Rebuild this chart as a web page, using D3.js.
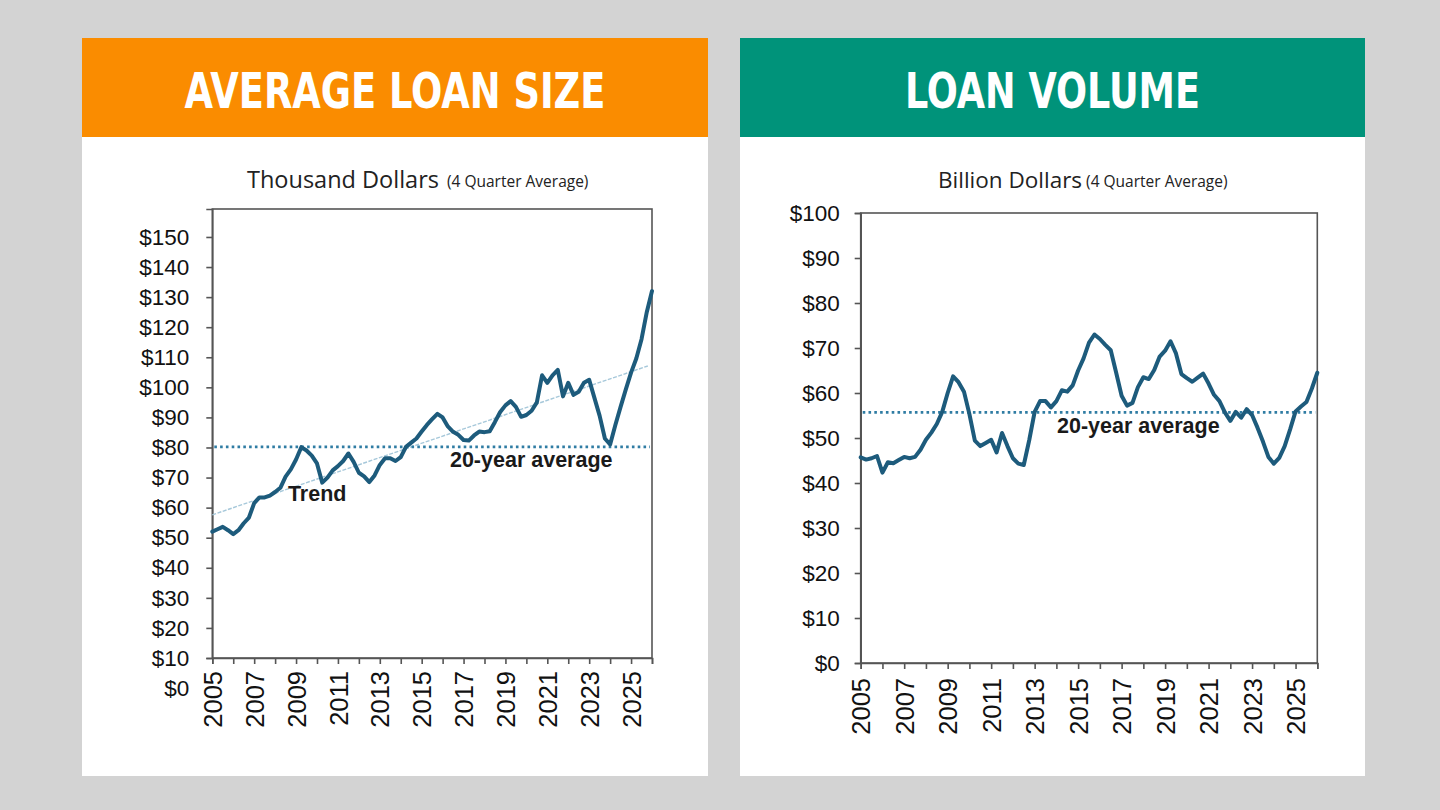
<!DOCTYPE html>
<html>
<head>
<meta charset="utf-8">
<script src="https://cdn.jsdelivr.net/npm/d3@7"></script>
<style>
  html, body { margin: 0; padding: 0; background: #d3d3d3; }
  svg { display: block; }
</style>
</head>
<body>
<svg id="chart" width="1440" height="810"></svg>
<script>
// ---------------- DATA ----------------
const startYear = 2005;            // first quarter of both series
const quarterStep = 0.25;

// Average loan size, thousand dollars (4 quarter average), quarterly 2005-2026
const loanSizeValues = [
  52.0, 52.8, 53.6, 52.5, 51.2, 52.5, 54.8, 56.7, 61.5, 63.4,
  63.4, 64.0, 65.2, 66.6, 70.3, 72.7, 76.0, 80.1, 79.0, 77.3,
  74.7, 68.3, 70.0, 72.4, 73.8, 75.5, 78.0, 75.2, 71.6, 70.4,
  68.5, 70.7, 74.2, 76.4, 76.4, 75.5, 76.8, 80.2, 81.6, 83.0,
  85.3, 87.5, 89.4, 91.2, 90.0, 87.0, 85.2, 84.2, 82.5, 82.3,
  84.0, 85.3, 85.1, 85.4, 88.5, 91.8, 94.0, 95.4, 93.5, 90.2,
  90.8, 92.2, 95.0, 104.0, 101.5, 104.0, 105.8, 97.0, 101.5, 97.5,
  98.5, 101.5, 102.5, 96.5, 90.5, 83.0, 81.0, 87.5, 93.5, 99.3,
  104.9, 109.6, 116.0, 125.0, 132.0
];
const loanSizeAverage = 80.2;
const trendYears = [2005, 2025.8];
const trendValues = [57.6, 107.1];

// Loan volume, billion dollars (4 quarter average), quarterly 2005-2026
const loanVolumeValues = [
  45.7, 45.2, 45.5, 46.0, 42.3, 44.6, 44.4, 45.1, 45.8, 45.5,
  45.8, 47.4, 49.6, 51.2, 53.1, 55.8, 60.0, 63.7, 62.4, 60.3,
  55.3, 49.4, 48.2, 48.9, 49.6, 46.8, 51.1, 48.2, 45.5, 44.3,
  44.0, 49.5, 55.8, 58.2, 58.2, 56.8, 58.2, 60.6, 60.3, 61.7,
  65.0, 67.7, 71.2, 73.0, 72.0, 70.7, 69.5, 64.5, 59.4, 57.2,
  57.8, 61.3, 63.5, 63.1, 65.1, 68.1, 69.4, 71.5, 68.8, 64.2,
  63.3, 62.5, 63.4, 64.3, 62.1, 59.6, 58.2, 55.7, 53.8, 55.8,
  54.5, 56.4, 55.1, 52.3, 49.2, 45.8, 44.3, 45.6, 48.2, 51.9,
  55.9, 57.0, 58.0, 61.0, 64.5
];
const loanVolumeAverage = 55.7;

// Axis ticks
const yearTicks = d3.range(2005, 2027);
const yearLabels = ["2005","2007","2009","2011","2013","2015","2017","2019","2021","2023","2025"];
const leftYTicks = [0, 10, 20, 30, 40, 50, 60, 70, 80, 90, 100, 110, 120, 130, 140, 150];
const rightYTicks = [0, 10, 20, 30, 40, 50, 60, 70, 80, 90, 100];

// Texts
const leftTitle = "AVERAGE LOAN SIZE";
const rightTitle = "LOAN VOLUME";
const leftUnit = "Thousand Dollars";
const rightUnit = "Billion Dollars";
const unitNote = "(4 Quarter Average)";
const leftAnnotations = [
  { text: "Trend", year: 2008.61, value: 62.2 },
  { text: "20-year average", year: 2016.35, value: 73.5 }
];
const rightAnnotations = [
  { text: "20-year average", year: 2014.03, value: 51.1 }
];

// ---------------- DRAW ----------------
const svg = d3.select("#chart");
svg.append("rect").attr("width", 1440).attr("height", 810).attr("fill", "#d3d3d3");

const LINE_COLOR = "#1d5b7c";
const AVG_COLOR = "#2f7ca3";
const AXIS_COLOR = "#555";

function panel(cfg) {
  const g = svg.append("g");
  // card
  g.append("rect").attr("x", cfg.cardX).attr("y", 38).attr("width", cfg.cardW).attr("height", 738).attr("fill", "#fff");
  g.append("rect").attr("x", cfg.cardX).attr("y", 38).attr("width", cfg.cardW).attr("height", 99).attr("fill", cfg.headColor);
  g.append("text")
    .attr("x", cfg.cardX + cfg.cardW / 2).attr("y", 108)
    .attr("text-anchor", "middle")
    .attr("fill", "#fff")
    .attr("font-family", "'DejaVu Sans Condensed', 'Liberation Sans Narrow', 'Roboto', sans-serif")
    .attr("font-weight", "bold")
    .attr("font-size", 49)
    .attr("textLength", cfg.titleLen)
    .attr("lengthAdjust", "spacingAndGlyphs")
    .text(cfg.title);

  // subtitle
  const st = g.append("text").attr("x", cfg.unitX).attr("y", 188)
    .attr("fill", "#222").attr("font-family", "'Open Sans', 'Noto Sans', sans-serif");
  st.append("tspan").attr("font-size", cfg.unitSize).text(cfg.unit);
  st.append("tspan").attr("font-size", 15.5).attr("dx", cfg.noteDx).attr("dy", -1).text(unitNote);

  const x = d3.scaleLinear().domain([2005, 2026]).range([cfg.px0, cfg.px1]);
  const y = d3.scaleLinear().domain(cfg.yDomain).range([cfg.py1, cfg.py0]);

  // frame
  g.append("rect").attr("x", cfg.px0).attr("y", cfg.py0)
    .attr("width", cfg.px1 - cfg.px0).attr("height", cfg.py1 - cfg.py0)
    .attr("fill", "none").attr("stroke", AXIS_COLOR).attr("stroke-width", 1.6);

  // y axis
  const ya = g.append("g").attr("transform", `translate(${cfg.px0},0)`)
    .call(d3.axisLeft(y).tickValues(cfg.yTicks).tickSize(6).tickPadding(cfg.yPad).tickFormat(d => "$" + d));
  ya.select(".domain").attr("stroke", AXIS_COLOR).attr("stroke-width", 1.6);
  ya.selectAll(".tick line").attr("stroke", AXIS_COLOR).attr("stroke-width", 1.6)
    .filter(d => d < cfg.yDomain[0]).remove();
  ya.selectAll(".tick text").attr("font-family", "'Liberation Sans', Arial, sans-serif")
    .attr("font-size", 22.5).attr("fill", "#111");

  // x axis
  const xa = g.append("g").attr("transform", `translate(0,${cfg.py1})`)
    .call(d3.axisBottom(x).tickValues(yearTicks).tickSize(6)
      .tickFormat(d => yearLabels.includes(String(d)) ? String(d) : ""));
  xa.select(".domain").attr("stroke", AXIS_COLOR).attr("stroke-width", 1.6);
  xa.selectAll(".tick line").attr("stroke", AXIS_COLOR).attr("stroke-width", 1.6);
  xa.selectAll(".tick text")
    .attr("font-family", "'Liberation Sans', Arial, sans-serif")
    .attr("font-size", 25.5).attr("fill", "#111")
    .attr("text-anchor", "end")
    .attr("transform", "rotate(-90)")
    .attr("x", -cfg.xLabelOff).attr("y", 0).attr("dy", "0.36em");

  // trend line
  if (cfg.trend) {
    g.append("line")
      .attr("x1", x(cfg.trend.years[0])).attr("y1", y(cfg.trend.values[0]))
      .attr("x2", x(cfg.trend.years[1])).attr("y2", y(cfg.trend.values[1]))
      .attr("stroke", "#a6c8da").attr("stroke-width", 1.4).attr("stroke-dasharray", "4,1.5");
  }

  // average dotted line
  g.append("line")
    .attr("x1", cfg.px0 + 2).attr("x2", cfg.px1 - 2)
    .attr("y1", y(cfg.avg)).attr("y2", y(cfg.avg))
    .attr("stroke", AVG_COLOR).attr("stroke-width", 2.6).attr("stroke-dasharray", "2.6,3.2");

  // series line
  const line = d3.line()
    .x((d, i) => x(startYear + i * quarterStep))
    .y(d => y(d));
  g.append("path").datum(cfg.values)
    .attr("d", line).attr("fill", "none")
    .attr("stroke", LINE_COLOR).attr("stroke-width", 4)
    .attr("stroke-linejoin", "round").attr("stroke-linecap", "round");

  // annotations
  g.selectAll("text.ann").data(cfg.annotations).enter().append("text")
    .attr("class", "ann")
    .attr("x", d => x(d.year)).attr("y", d => y(d.value))
    .attr("font-family", "'Liberation Sans', Arial, sans-serif")
    .attr("font-weight", "bold").attr("font-size", 21.5).attr("fill", "#1a1a1a")
    .text(d => d.text);
}

panel({
  cardX: 82, cardW: 626, headColor: "#fa8c00",
  title: leftTitle, titleLen: 421,
  unit: leftUnit, unitX: 247, unitSize: 23.5, noteDx: 8,
  px0: 212.3, px1: 652, py0: 209, py1: 658,
  yDomain: [10, 159.3], yTicks: leftYTicks, yPad: 17,
  xLabelOff: 13,
  values: loanSizeValues, avg: loanSizeAverage,
  trend: { years: trendYears, values: trendValues },
  annotations: leftAnnotations
});

panel({
  cardX: 740, cardW: 625, headColor: "#00937a",
  title: rightTitle, titleLen: 295,
  unit: rightUnit, unitX: 938, unitSize: 22.5, noteDx: 4,
  px0: 860.7, px1: 1317.3, py0: 213, py1: 663,
  yDomain: [0, 100], yTicks: rightYTicks, yPad: 15,
  xLabelOff: 15,
  values: loanVolumeValues, avg: loanVolumeAverage,
  trend: null,
  annotations: rightAnnotations
});
</script>
</body>
</html>
